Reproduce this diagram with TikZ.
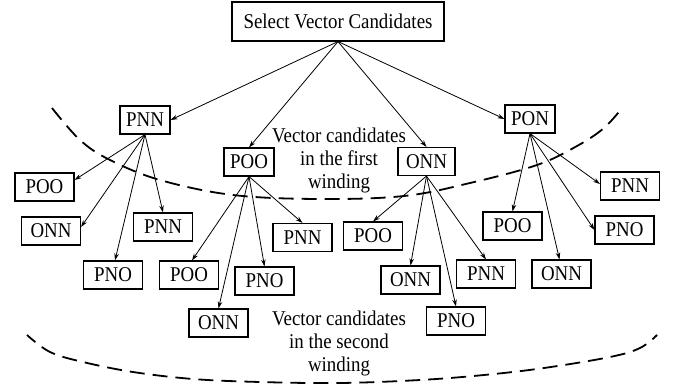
\documentclass[tikz,border=0pt]{standalone}
\usepackage{fontspec}
\setmainfont{Liberation Serif}
\newfontfamily\diafont[FakeStretch=0.9]{Liberation Serif}
\usetikzlibrary{arrows.meta}
\begin{document}
\begin{tikzpicture}[x=1pt,y=-1pt,
  box/.style={draw,line width=1.1pt,inner sep=0pt,minimum height=28pt,font=\diafont\fontsize{21}{23}\selectfont},
  lone/.style={box,minimum width=50pt},
  ltwo/.style={box,minimum width=59pt},
  arr/.style={line width=0.8pt,-{Stealth[length=7pt,width=4.5pt]}},
  wind/.style={line width=1.8pt,dash pattern=on 15pt off 8pt},
  lbl/.style={align=center,inner sep=0pt,font=\diafont\fontsize{21}{23}\selectfont}]
\useasboundingbox (0,0) rectangle (677,385);
% nodes
\node[box,minimum width=212pt,minimum height=39pt] (sel) at (338,21.5) {Select Vector Candidates};
\node[lone] (pnnA) at (145,120) {PNN};
\node[lone] (pooA) at (249,162) {POO};
\node[lone,minimum width=57pt] (onnA) at (426.5,161.5) {ONN};
\node[lone] (ponA) at (530,119) {PON};
% children of PNN
\node[ltwo] (a1) at (44.5,187) {POO};
\node[ltwo] (a2) at (51,231) {ONN};
\node[ltwo] (a3) at (163,227) {PNN};
\node[ltwo] (a4) at (113,275) {PNO};
% children of POO
\node[ltwo] (b1) at (189,275) {POO};
\node[ltwo] (b2) at (218.5,323) {ONN};
\node[ltwo] (b3) at (264.5,281) {PNO};
\node[ltwo] (b4) at (302.5,237.5) {PNN};
% children of ONN
\node[ltwo] (c1) at (373,236) {POO};
\node[ltwo] (c2) at (410.5,280) {ONN};
\node[ltwo] (c3) at (456,321) {PNO};
\node[ltwo] (c4) at (486,274) {PNN};
% children of PON
\node[ltwo] (d1) at (512.5,226) {POO};
\node[ltwo] (d2) at (561.5,274) {ONN};
\node[ltwo] (d3) at (630,186) {PNN};
\node[ltwo] (d4) at (624.5,230) {PNO};
% labels
\node[lbl] (t1) at (339,160) {Vector candidates\\in the first\\winding};
\node[lbl] (t2) at (339,343) {Vector candidates\\in the second\\winding};
% connectors
\draw[arr] (sel.south) -- (pnnA.east);
\draw[arr] (sel.south) -- (pooA.north);
\draw[arr] (sel.south) -- (onnA.north);
\draw[arr] (sel.south) -- (ponA.west);
\draw[arr] (pnnA.south) -- ([yshift=7pt]a1.east);
\draw[arr] (pnnA.south) -- ([yshift=4pt]a2.east);
\draw[arr] (pnnA.south) -- (a3.north);
\draw[arr] (pnnA.south) -- ([xshift=2pt]a4.north);
\draw[arr] (pooA.south) -- ([xshift=3pt]b1.north);
\draw[arr] (pooA.south) -- (b2.north);
\draw[arr] (pooA.south) -- (b3.north);
\draw[arr] (pooA.south) -- (b4.north);
\draw[arr] (onnA.south) -- (c1.north);
\draw[arr] (onnA.south) -- (c2.north);
\draw[arr] (onnA.south) -- (c3.north);
\draw[arr] (onnA.south) -- (c4.north);
\draw[arr] (ponA.south) -- (d1.north);
\draw[arr] (ponA.south) -- ([xshift=-2pt]d2.north);
\draw[arr] (ponA.south) -- ([yshift=2pt]d3.west);
\draw[arr] (ponA.south) -- (d4.west);
% windings
\draw[wind] plot[smooth,tension=0.6] coordinates {(52,108) (80,140) (110,160) (160,180) (233,195) (320,199) (404,196) (470,183) (537,165) (577,146) (604,128) (622,108)};
\draw[wind,dash phase=4pt] plot[smooth,tension=0.6] coordinates {(27,335) (50,352) (83,362) (133,372) (193,379) (260,382) (340,383) (420,380) (484,375) (544,368) (610,357) (640,348) (657,335)};
\end{tikzpicture}
\end{document}
